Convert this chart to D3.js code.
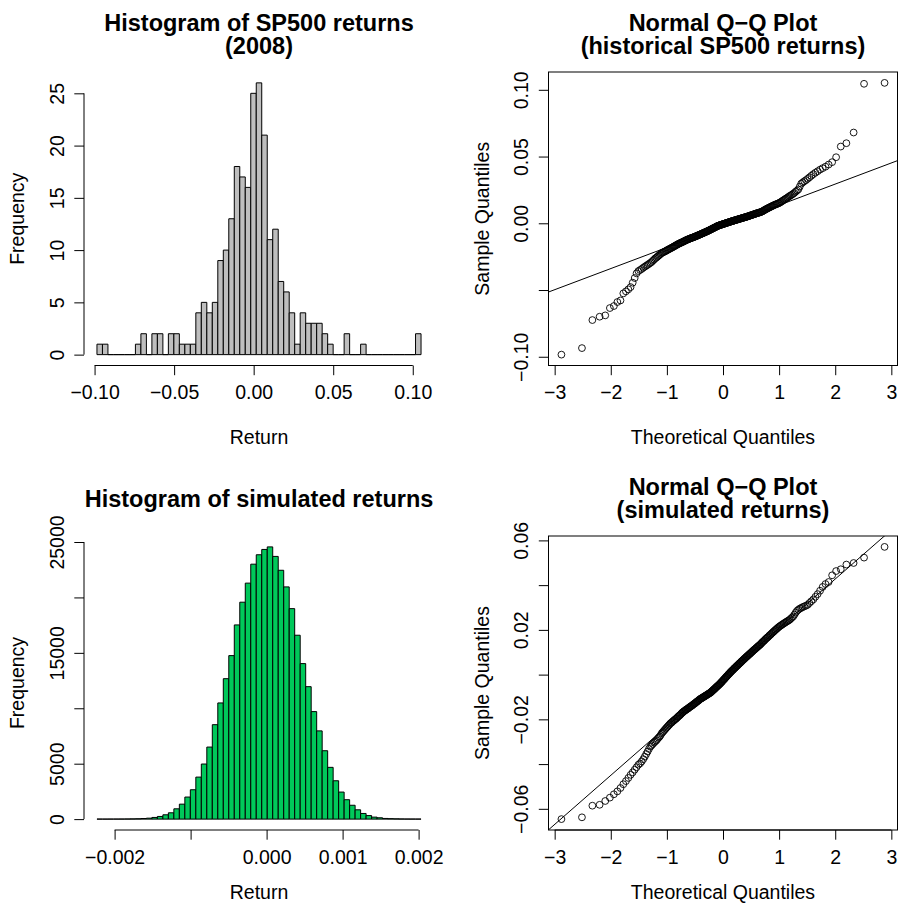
<!DOCTYPE html>
<html>
<head>
<meta charset="utf-8">
<script src="https://cdn.jsdelivr.net/npm/d3@7"></script>
<style>
body { margin: 0; background: #fff; }
text { font-family: "Liberation Sans", Arial, Helvetica, sans-serif; fill: #000; }
</style>
</head>
<body>
<svg id="chart" width="898" height="907"></svg>
<script>
// ---- data ----

// SP500 2008 daily returns: histogram counts (59 equal bins)
var spBreakRange = [-0.0985, 0.1052];
var spCounts = [1, 1, 0, 0, 0, 0, 0, 1, 2, 0, 2, 2, 0, 2, 2, 1, 1, 1, 4, 5,
    4, 5, 9, 10, 13, 18, 17, 16, 25, 26, 21, 11, 12, 7, 6, 4, 1, 4, 3, 3,
    3, 2, 1, 0, 0, 2, 0, 0, 1, 0, 0, 0, 0, 0, 0, 0, 0, 0, 2];

// simulated returns: histogram counts (59 equal bins)
var simBreakRange = [-0.002232, 0.002032];
var simCounts = [2, 1, 3, 5, 8, 13, 20, 32, 55, 85, 150, 240, 390, 570, 930, 1350, 1990, 2650, 3790, 4970,
    6500, 8520, 10480, 12670, 14750, 17520, 19570, 21290, 23000, 23850, 24330, 24560, 23700, 22450, 20950, 18990, 16590, 14030, 11950, 9700,
    7960, 6170, 4670, 3460, 2440, 1750, 1250, 840, 510, 320, 180, 120, 60, 40, 25, 15, 10, 6, 4];

// SP500 2008 returns, sorted, in percent (sample quantiles of the upper Q-Q plot)
var spSortedPct = [-9.84, -9.35, -7.25, -7.00, -6.90, -6.35, -6.20, -5.90, -5.78, -5.25, -5.10, -4.95, -4.78, -4.45, -4.10, -3.75,
    -3.58, -3.50, -3.42, -3.33, -3.25, -3.18, -3.11, -3.04, -2.97, -2.90, -2.81, -2.72, -2.63,
    -2.57, -2.50, -2.43, -2.36, -2.29, -2.23, -2.19, -2.15, -2.12, -2.08, -2.04, -2.00, -1.96, -1.93,
    -1.89, -1.86, -1.82, -1.79, -1.75, -1.72, -1.68, -1.65, -1.61, -1.58,
    -1.55, -1.52, -1.49, -1.47, -1.44, -1.42, -1.39, -1.36, -1.34, -1.31, -1.28, -1.26, -1.23,
    -1.21, -1.19, -1.17, -1.15, -1.13, -1.11, -1.09, -1.07, -1.06, -1.04, -1.02, -1.00, -0.98, -0.96, -0.94, -0.92, -0.90, -0.88,
    -0.86, -0.84, -0.82, -0.80, -0.78, -0.76, -0.74, -0.72, -0.70, -0.68, -0.66, -0.64, -0.62, -0.60, -0.58, -0.56, -0.54,
    -0.52, -0.49, -0.47, -0.45, -0.43, -0.41, -0.39, -0.36, -0.34, -0.32, -0.30, -0.28, -0.26, -0.23, -0.21, -0.19,
    -0.17, -0.16, -0.15, -0.13, -0.12, -0.10, -0.09, -0.08, -0.06, -0.05, -0.03, -0.02, -0.01, 0.01, 0.02,
    0.04, 0.05, 0.06, 0.08, 0.09, 0.10, 0.12, 0.13, 0.15, 0.16,
    0.17, 0.18, 0.20, 0.21, 0.22, 0.24, 0.25, 0.26, 0.28, 0.29, 0.30, 0.32, 0.33, 0.34, 0.36, 0.37, 0.38, 0.40, 0.41, 0.42,
    0.44, 0.45, 0.46, 0.48, 0.49, 0.50,
    0.52, 0.54, 0.55, 0.57, 0.58, 0.60, 0.62, 0.63, 0.65, 0.67, 0.68, 0.70, 0.72, 0.73, 0.75, 0.77, 0.78, 0.80, 0.81, 0.83, 0.85,
    0.87, 0.90, 0.93, 0.96, 1.00, 1.03, 1.06, 1.09, 1.12, 1.15, 1.18,
    1.21, 1.24, 1.27, 1.30, 1.33, 1.36, 1.39, 1.42, 1.44, 1.47, 1.50, 1.53,
    1.57, 1.62, 1.67, 1.72, 1.77, 1.82, 1.87, 1.92, 1.98, 2.04, 2.09, 2.15, 2.21,
    2.28, 2.37, 2.45, 2.54, 2.75, 2.97, 3.06, 3.15, 3.23, 3.33, 3.44, 3.56, 3.68, 3.79, 3.90,
    4.02, 4.13, 4.24, 4.40, 4.58, 4.95, 5.75, 6.00, 6.80, 10.45, 10.52];

// simulated returns, sorted, in percent (sample quantiles of the lower Q-Q plot)
var simSortedPct = [-6.46, -6.38, -5.86, -5.82, -5.65, -5.50, -5.35, -5.22, -5.07, -4.90,
    -4.76, -4.62, -4.48, -4.37, -4.25, -4.14, -4.03, -3.97, -3.88, -3.78,
    -3.67, -3.55, -3.44, -3.32, -3.22, -3.16, -3.10, -3.04, -2.99, -2.94,
    -2.88, -2.82, -2.77, -2.70, -2.62, -2.57, -2.52, -2.47, -2.42, -2.37,
    -2.33, -2.28, -2.24, -2.19, -2.16, -2.13, -2.09, -2.06, -2.03, -2.00,
    -1.97, -1.94, -1.90, -1.87, -1.84, -1.81, -1.78, -1.74, -1.71, -1.68,
    -1.65, -1.63, -1.61, -1.58, -1.56, -1.54, -1.52, -1.50, -1.47, -1.45,
    -1.43, -1.41, -1.39, -1.37, -1.34, -1.32, -1.30, -1.28, -1.26, -1.23,
    -1.21, -1.19, -1.17, -1.15, -1.12, -1.10, -1.08, -1.07, -1.05, -1.03,
    -1.02, -1.00, -0.98, -0.97, -0.95, -0.93, -0.92, -0.90, -0.88, -0.87,
    -0.85, -0.83, -0.82, -0.80, -0.78, -0.75, -0.73, -0.71, -0.68, -0.66,
    -0.64, -0.61, -0.59, -0.56, -0.54, -0.52, -0.49, -0.47, -0.45, -0.42,
    -0.40, -0.37, -0.34, -0.32, -0.29, -0.26, -0.23, -0.21, -0.18, -0.15,
    -0.12, -0.09, -0.07, -0.04, -0.01, 0.02, 0.04, 0.07, 0.10, 0.12,
    0.15, 0.18, 0.20, 0.22, 0.25, 0.28, 0.30, 0.32, 0.35, 0.38,
    0.40, 0.42, 0.45, 0.48, 0.50, 0.52, 0.55, 0.58, 0.60, 0.63,
    0.65, 0.68, 0.70, 0.73, 0.75, 0.78, 0.80, 0.83, 0.85, 0.88,
    0.90, 0.93, 0.95, 0.98, 1.01, 1.03, 1.06, 1.09, 1.11, 1.14,
    1.16, 1.19, 1.22, 1.24, 1.27, 1.30, 1.32, 1.35, 1.38, 1.42,
    1.45, 1.48, 1.51, 1.54, 1.58, 1.61, 1.64, 1.67, 1.70, 1.74,
    1.77, 1.80, 1.84, 1.87, 1.91, 1.94, 1.98, 2.01, 2.05, 2.08,
    2.12, 2.15, 2.18, 2.21, 2.24, 2.27, 2.30, 2.33, 2.36, 2.39,
    2.42, 2.45, 2.50, 2.55, 2.60, 2.68, 2.77, 2.85, 2.90, 2.95,
    2.98, 3.02, 3.05, 3.08, 3.12, 3.20, 3.28, 3.36, 3.48, 3.60,
    3.75, 3.92, 4.05, 4.14, 4.44, 4.63, 4.71, 4.92, 4.99, 5.23, 5.71];

// ticks and their labels ('' = tick drawn, label dropped as in the original)
var spRetTicks = [-0.10, -0.05, 0, 0.05, 0.10];
var spRetLabels = ['\u22120.10', '\u22120.05', '0.00', '0.05', '0.10'];
var spFreqTicks = [0, 5, 10, 15, 20, 25];
var spFreqLabels = ['0', '5', '10', '15', '20', '25'];
var simRetTicks = [-0.002, -0.001, 0, 0.001, 0.002];
var simRetLabels = ['\u22120.002', '', '0.000', '0.001', '0.002'];
var simFreqTicks = [0, 5000, 10000, 15000, 20000, 25000];
var simFreqLabels = ['0', '5000', '', '15000', '', '25000'];
var qqXTicks = [-3, -2, -1, 0, 1, 2, 3];
var qqXLabels = ['\u22123', '\u22122', '\u22121', '0', '1', '2', '3'];
var spQQTicks = [-0.10, -0.05, 0, 0.05, 0.10];
var spQQLabels = ['\u22120.10', '', '0.00', '0.05', '0.10'];
var simQQTicks = [-0.06, -0.04, -0.02, 0, 0.02, 0.04, 0.06];
var simQQLabels = ['\u22120.06', '', '\u22120.02', '', '0.02', '', '0.06'];

// ---- layout ----
var FONT = 19.5, TITLE = 23.5, TICK = 9.7;
var panels = {
    tl: { x0: 84, x1: 434, y0: 72, y1: 365.5 },
    tr: { x0: 548.5, x1: 897.5, y0: 72, y1: 365.5 },
    bl: { x0: 84, x1: 434, y0: 536, y1: 830 },
    br: { x0: 548.5, x1: 897.5, y0: 536, y1: 830 }
};

var svg = d3.select('#chart');

// R style: pad the data range by 4% on each side
var pad = function(ext) {
    var d = (ext[1] - ext[0]) * 0.04;
    return [ext[0] - d, ext[1] + d];
};

var bottomAxis = function(p, scale, ticks, labels) {
    var g = svg.append('g').attr('transform', 'translate(0,' + p.y1 + ')');
    g.call(d3.axisBottom(scale).tickValues(ticks).tickSize(TICK).tickSizeOuter(0)
        .tickFormat(function(d, i) { return labels[i]; }));
    g.select('.domain').attr('d', 'M' + scale(ticks[0]) + ',0H' + scale(ticks[ticks.length - 1]));
    g.selectAll('line, path').attr('stroke', '#000');
    g.selectAll('text').attr('y', 33.5).attr('dy', null)
        .style('font-size', FONT + 'px').attr('font-family', null);
    return g;
};

var leftAxis = function(p, scale, ticks, labels) {
    var g = svg.append('g').attr('transform', 'translate(' + p.x0 + ',0)');
    g.call(d3.axisLeft(scale).tickValues(ticks).tickSize(TICK).tickSizeOuter(0)
        .tickFormat(function(d, i) { return labels[i]; }));
    g.select('.domain').attr('d', 'M0,' + scale(ticks[0]) + 'V' + scale(ticks[ticks.length - 1]));
    g.selectAll('line, path').attr('stroke', '#000');
    g.selectAll('text')
        .attr('transform', 'rotate(-90)')
        .attr('x', 0).attr('y', -20.5).attr('dy', null)
        .attr('text-anchor', 'middle')
        .style('font-size', FONT + 'px').attr('font-family', null);
    return g;
};

var labels = function(p, xLab, yLab, xLabY) {
    svg.append('text').attr('x', (p.x0 + p.x1) / 2).attr('y', p.y1 + xLabY)
        .attr('text-anchor', 'middle').style('font-size', FONT + 'px').text(xLab);
    svg.append('text')
        .attr('transform', 'translate(' + (p.x0 - 60) + ',' + ((p.y0 + p.y1) / 2) + ') rotate(-90)')
        .attr('text-anchor', 'middle').style('font-size', FONT + 'px').text(yLab);
};

var title = function(p, lines, lastY) {
    lines.forEach(function(t, i) {
        svg.append('text').attr('x', (p.x0 + p.x1) / 2)
            .attr('y', lastY - (lines.length - 1 - i) * 23.5)
            .attr('text-anchor', 'middle').attr('font-weight', 'bold')
            .style('font-size', TITLE + 'px').text(t);
    });
};

var histogram = function(p, counts, range, fill, xTicks, xLabels, yTicks, yLabels) {
    var n = counts.length;
    var w = (range[1] - range[0]) / n;
    var bins = counts.map(function(c, i) {
        return { x0: range[0] + i * w, x1: range[0] + (i + 1) * w, count: c };
    });
    var x = d3.scaleLinear().domain(pad(range)).range([p.x0, p.x1]);
    var y = d3.scaleLinear().domain(pad([0, d3.max(counts)])).range([p.y1, p.y0]);

    svg.append('g').selectAll('path').data(bins).enter().append('path')
        .attr('d', function(b) {
            return 'M' + x(b.x0) + ',' + y(0) + 'V' + y(b.count) + 'H' + x(b.x1) + 'V' + y(0) + 'Z';
        })
        .attr('fill', fill)
        .attr('stroke', '#000')
        .attr('stroke-width', 1);

    bottomAxis(p, x, xTicks, xLabels);
    leftAxis(p, y, yTicks, yLabels);
};

var qqPlot = function(p, id, sortedPct, yTicks, yLabels) {
    var sample = sortedPct.map(function(v) { return v / 100; });
    var n = sample.length;
    var pts = sample.map(function(v, i) {
        return { t: jStatQnorm((i + 1 - 0.5) / n), s: v };
    });
    var x = d3.scaleLinear().domain(pad(d3.extent(pts, function(d) { return d.t; }))).range([p.x0, p.x1]);
    var y = d3.scaleLinear().domain(pad(d3.extent(sample))).range([p.y1, p.y0]);

    svg.append('clipPath').attr('id', id)
        .append('rect').attr('x', p.x0).attr('y', p.y0)
        .attr('width', p.x1 - p.x0).attr('height', p.y1 - p.y0);

    // qqline through the first and third quartiles
    var q1 = d3.quantileSorted(sample, 0.25), q3 = d3.quantileSorted(sample, 0.75);
    var t1 = jStatQnorm(0.25), t3 = jStatQnorm(0.75);
    var slope = (q3 - q1) / (t3 - t1), icpt = q1 - slope * t1;
    var dom = x.domain();
    svg.append('line').attr('clip-path', 'url(#' + id + ')')
        .attr('x1', x(dom[0])).attr('y1', y(icpt + slope * dom[0]))
        .attr('x2', x(dom[1])).attr('y2', y(icpt + slope * dom[1]))
        .attr('stroke', '#000').attr('stroke-width', 1);

    svg.append('g').selectAll('circle').data(pts).enter().append('circle')
        .attr('cx', function(d) { return x(d.t); })
        .attr('cy', function(d) { return y(d.s); })
        .attr('r', 3.4)
        .attr('fill', 'none')
        .attr('stroke', '#000')
        .attr('stroke-width', 0.9);

    svg.append('rect').attr('x', p.x0).attr('y', p.y0)
        .attr('width', p.x1 - p.x0).attr('height', p.y1 - p.y0)
        .attr('fill', 'none').attr('stroke', '#000');

    bottomAxis(p, x, qqXTicks, qqXLabels);
    leftAxis(p, y, yTicks, yLabels);
};

// inverse normal CDF (Acklam's approximation), for theoretical quantiles
function jStatQnorm(pr) {
    var a = [-3.969683028665376e+01, 2.209460984245205e+02, -2.759285104469687e+02, 1.383577518672690e+02, -3.066479806614716e+01, 2.506628277459239e+00];
    var b = [-5.447609879822406e+01, 1.615858368580409e+02, -1.556989798598866e+02, 6.680131188771972e+01, -1.328068155288572e+01];
    var c = [-7.784894002430293e-03, -3.223964580411365e-01, -2.400758277161838e+00, -2.549732539343734e+00, 4.374664141464968e+00, 2.938163982698783e+00];
    var d = [7.784695709041462e-03, 3.224671290700398e-01, 2.445134137142996e+00, 3.754408661907416e+00];
    var q, r;
    if (pr < 0.02425) {
        q = Math.sqrt(-2 * Math.log(pr));
        return (((((c[0] * q + c[1]) * q + c[2]) * q + c[3]) * q + c[4]) * q + c[5]) /
            ((((d[0] * q + d[1]) * q + d[2]) * q + d[3]) * q + 1);
    } else if (pr > 1 - 0.02425) {
        return -jStatQnorm(1 - pr);
    }
    q = pr - 0.5;
    r = q * q;
    return (((((a[0] * r + a[1]) * r + a[2]) * r + a[3]) * r + a[4]) * r + a[5]) * q /
        (((((b[0] * r + b[1]) * r + b[2]) * r + b[3]) * r + b[4]) * r + 1);
}

// ---- draw ----
histogram(panels.tl, spCounts, spBreakRange, '#bebebe', spRetTicks, spRetLabels, spFreqTicks, spFreqLabels);
title(panels.tl, ['Histogram of SP500 returns', '(2008)'], 54);
labels(panels.tl, 'Return', 'Frequency', 78);

qqPlot(panels.tr, 'clipTop', spSortedPct, spQQTicks, spQQLabels);
title(panels.tr, ['Normal Q\u2212Q Plot', '(historical SP500 returns)'], 54);
labels(panels.tr, 'Theoretical Quantiles', 'Sample Quantiles', 78);

histogram(panels.bl, simCounts, simBreakRange, '#00c85a', simRetTicks, simRetLabels, simFreqTicks, simFreqLabels);
title(panels.bl, ['Histogram of simulated returns'], 507);
labels(panels.bl, 'Return', 'Frequency', 69);

qqPlot(panels.br, 'clipBot', simSortedPct, simQQTicks, simQQLabels);
title(panels.br, ['Normal Q\u2212Q Plot', '(simulated returns)'], 518);
labels(panels.br, 'Theoretical Quantiles', 'Sample Quantiles', 69);
</script>
</body>
</html>
